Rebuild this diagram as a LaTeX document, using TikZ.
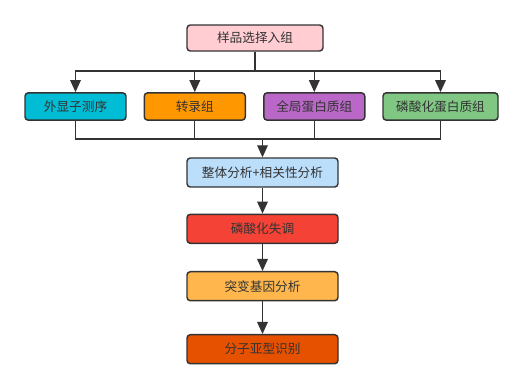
\documentclass[tikz,border=0pt]{standalone}
\usepackage{fontspec}
\usepackage{tikz}
\usetikzlibrary{arrows.meta,positioning}
\newfontfamily\cjk{Noto Sans CJK SC}
\definecolor{FlowLine}{RGB}{51,51,51}
\definecolor{SamplePink}{RGB}{255,205,210}
\definecolor{ExomeCyan}{RGB}{0,188,212}
\definecolor{TransOrange}{RGB}{255,152,0}
\definecolor{ProtPurple}{RGB}{186,104,200}
\definecolor{PhosGreen}{RGB}{129,199,132}
\definecolor{JointBlue}{RGB}{187,222,251}
\definecolor{DysRed}{RGB}{244,67,54}
\definecolor{MutAmber}{RGB}{255,183,77}
\definecolor{SubDeep}{RGB}{230,81,0}

\begin{document}
\begin{tikzpicture}[
        x=0.75pt, y=0.75pt,
        font=\cjk\fontsize{9.5}{11}\selectfont,
        box/.style={
            draw=FlowLine,
            text=FlowLine,
            line width=1.1pt,
            rounded corners=2.5pt,
            align=center,
            minimum width=75.75pt,
            minimum height=20.5pt,
            inner sep=2pt
        },
        wide/.style={
            box,
            minimum width=113.25pt,
            minimum height=21.75pt
        },
        line/.style={
            draw=FlowLine,
            line width=0.9pt
        },
        arrow/.style={
            line,
            -{Triangle[length=9pt,width=8pt]}
        }
    ]
    \useasboundingbox (0,0) rectangle (531,-389);

    % Sample selection
    \node[box, fill=SamplePink, minimum width=102pt, minimum height=19.5pt] (top) at (255,-38) {样品选择入组};

    % Omics groups
    \node[box, fill=ExomeCyan] (r1) at (75.5,-106.5) {外显子测序};
    \node[box, fill=TransOrange] (r2) at (194.8,-106.5) {转录组};
    \node[box, fill=ProtPurple] (r3) at (314.3,-106.5) {全局蛋白质组};
    \node[box, fill=PhosGreen, minimum width=86.25pt] (r4) at (440.5,-106.5) {磷酸化蛋白质组};

    \coordinate (split) at (0,-71);
    \coordinate (merge) at (0,-139);

    \draw[arrow] (top.south) |- (r1.north |- split) -- (r1.north);
    \draw[arrow] (top.south) |- (r2.north |- split) -- (r2.north);
    \draw[arrow] (top.south) |- (r3.north |- split) -- (r3.north);
    \draw[arrow] (top.south) |- (r4.north |- split) -- (r4.north);

    % Downstream analysis chain
    \node[wide, fill=JointBlue] (joint) at (262.5,-172.5) {整体分析+相关性分析};
    \node[wide, fill=DysRed] (dys) at (262.5,-228.8) {磷酸化失调};
    \node[wide, fill=MutAmber] (mut) at (262.5,-286.2) {突变基因分析};
    \node[wide, fill=SubDeep] (sub) at (262.5,-349.2) {分子亚型识别};

    \draw[line] (r1.south) |- (joint.north |- merge);
    \draw[line] (r2.south) |- (joint.north |- merge);
    \draw[line] (r3.south) |- (joint.north |- merge);
    \draw[line] (r4.south) |- (joint.north |- merge);
    \draw[arrow] (joint.north |- merge) -- (joint.north);

    \draw[arrow] (joint.south) -- (dys.north);
    \draw[arrow] (dys.south) -- (mut.north);
    \draw[arrow] (mut.south) -- (sub.north);

    \end{tikzpicture}
\end{document}
